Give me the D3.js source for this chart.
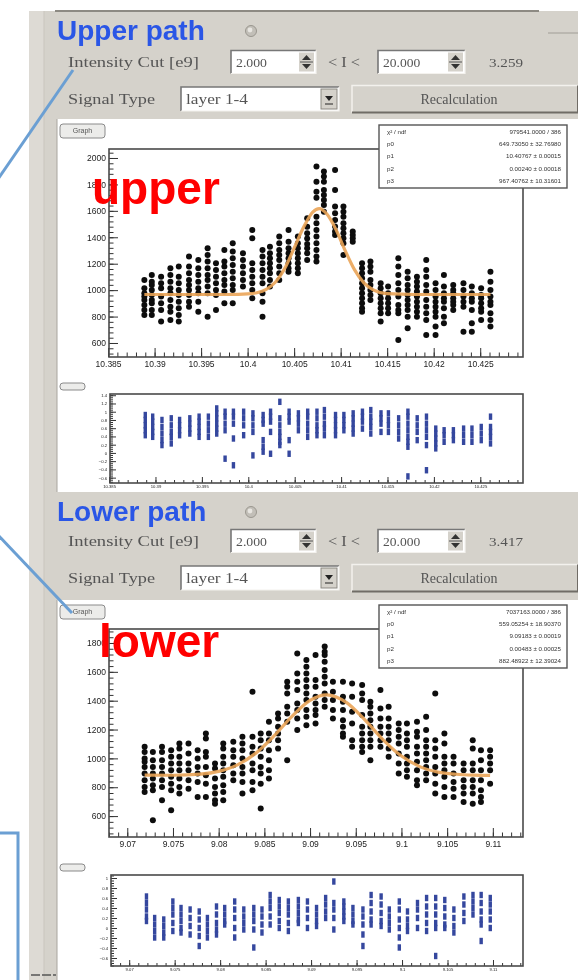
<!DOCTYPE html>
<html>
<head>
<meta charset="utf-8">
<title>upper / lower path fits</title>
<script src="https://cdn.jsdelivr.net/npm/d3@7/dist/d3.min.js"></script>
<style>
  body { margin: 0; background: #fff; }
  svg { display: block; }
</style>
</head>
<body>
<div id="contents"></div>
<script>
// ---------- data ----------
const upperX = [10.3889, 10.3897, 10.3907, 10.3917, 10.3926, 10.3937, 10.3947, 10.3957, 10.3966, 10.3975,
    10.3984, 10.3995, 10.4005, 10.4016, 10.4024, 10.4034, 10.4044, 10.4054, 10.4064, 10.4074,
    10.4082, 10.4094, 10.4103, 10.4113, 10.4123, 10.4132, 10.4143, 10.4151, 10.4162, 10.4172,
    10.4182, 10.4192, 10.4202, 10.4211, 10.4221, 10.4232, 10.4241, 10.4251, 10.4261];

const upperY = [
    [1077, 1014, 976, 951, 926, 888, 850, 812],
    [1115, 1064, 1039, 1001, 963, 926, 900, 850, 812],
    [1102, 1052, 1014, 951, 900, 850, 762],
    [1165, 1115, 1064, 1014, 976, 926, 875, 837, 774],
    [1178, 1102, 1052, 1001, 963, 913, 862, 812, 762],
    [1254, 1178, 1127, 1077, 1039, 1001, 963, 913, 875],
    [1228, 1165, 1115, 1064, 1014, 976, 913, 837],
    [1317, 1266, 1216, 1165, 1115, 1077, 1027, 976, 799],
    [1203, 1153, 1102, 1052, 1001, 963, 850],
    [1304, 1216, 1178, 1127, 1077, 1039, 989, 900],
    [1355, 1292, 1241, 1190, 1140, 1090, 1039, 1001, 900],
    [1279, 1228, 1178, 1127, 1077, 1027],
    [1455, 1392, 1203, 1153, 1102, 1052, 1001, 938],
    [1304, 1254, 1203, 1153, 1102, 1052, 976, 913, 799],
    [1329, 1279, 1241, 1203, 1165, 1127, 1077, 1027],
    [1405, 1355, 1304, 1266, 1228, 1178, 1127, 1077],
    [1455, 1367, 1317, 1279, 1241, 1203, 1165, 1140],
    [1405, 1355, 1317, 1279, 1241, 1203, 1165, 1127],
    [1544, 1480, 1430, 1390, 1350, 1317, 1280, 1228],
    [1935, 1821, 1745, 1700, 1556, 1506, 1455, 1405, 1355, 1304, 1254, 1216],
    [1897, 1860, 1821, 1758, 1720, 1682, 1645, 1594],
    [1910, 1758, 1632, 1582, 1531, 1481, 1443, 1418],
    [1632, 1594, 1556, 1506, 1468, 1430, 1392, 1355, 1266],
    [1443, 1418, 1392, 1367],
    [1203, 1165, 1127, 1090, 1052, 1014, 976, 938, 900, 862, 837],
    [1216, 1178, 1140, 1077, 1039, 1001, 963, 926],
    [1052, 1014, 976, 938, 900, 862, 825, 762],
    [1027, 976, 938, 900, 862, 825],
    [1241, 1178, 1115, 1052, 1001, 951, 888, 850, 825, 623],
    [1140, 1090, 1039, 1001, 963, 926, 888, 850, 799, 711],
    [1102, 1064, 1027, 989, 951, 913, 875, 837, 799],
    [1228, 1153, 1102, 1039, 989, 926, 875, 825, 774, 661],
    [1052, 1001, 951, 913, 875, 837, 799, 724, 661],
    [1115, 1027, 976, 938, 913, 863, 799, 749],
    [1039, 1001, 976, 938, 913, 888, 850],
    [1052, 1001, 951, 913, 875, 686],
    [1027, 976, 938, 913, 850, 749, 686],
    [1014, 963, 938, 900, 863, 837, 774],
    [1140, 1064, 1001, 951, 913, 888, 825, 774, 724]
];

const upperFitX = [10.3889, 10.394, 10.398, 10.400, 10.401, 10.402, 10.403, 10.404, 10.405, 10.406, 10.407,
    10.4077, 10.4085, 10.4095, 10.4105, 10.4115, 10.4125, 10.4135, 10.415, 10.418, 10.4261];
const upperFitY = [967, 967, 967, 971, 980, 1006, 1062, 1165, 1318, 1474, 1591,
    1617, 1578, 1458, 1297, 1153, 1055, 1002, 973, 967, 967];

const upperResid = [
    [0.92, 0.80, 0.67, 0.55, 0.43], [0.88, 0.76, 0.63, 0.51, 0.39], [0.80, 0.63, 0.47, 0.31, 0.19],
    [0.84, 0.67, 0.51, 0.39, 0.23], [0.80, 0.67, 0.55, 0.43], [0.84, 0.71, 0.59, 0.47],
    [0.88, 0.76, 0.63, 0.51, 0.39], [0.88, 0.71, 0.55, 0.39], [1.08, 0.96, 0.84, 0.71, 0.59, 0.47],
    [1.00, 0.88, 0.71, 0.55, -0.14], [1.00, 0.88, 0.71, 0.35, -0.30], [1.00, 0.84, 0.67, 0.43],
    [0.96, 0.84, 0.67, 0.51, -0.06], [0.92, 0.80, 0.71, 0.31, 0.15, 0.03], [1.00, 0.88, 0.76, 0.51, -0.02],
    [1.24, 0.84, 0.67, 0.51, 0.39, 0.27, 0.19], [1.00, 0.88, 0.76, 0.31, -0.02], [0.96, 0.84, 0.71, 0.55],
    [1.00, 0.88, 0.71, 0.55, 0.39], [1.00, 0.84, 0.67, 0.55, 0.43], [1.04, 0.88, 0.71, 0.59, 0.43],
    [0.92, 0.80, 0.67, 0.55, 0.43], [0.92, 0.80, 0.67, 0.55], [0.96, 0.84, 0.71, 0.59, 0.47],
    [1.00, 0.88, 0.76, 0.59], [1.04, 0.88, 0.76, 0.63, 0.47], [0.96, 0.84, 0.71, 0.51],
    [0.96, 0.80, 0.67, 0.51], [0.84, 0.67, 0.51, 0.35], [1.00, 0.88, 0.71, 0.55, 0.39, 0.27, 0.15, -0.57],
    [0.84, 0.67, 0.51, 0.31], [0.88, 0.71, 0.55, 0.39, 0.19, -0.42], [0.59, 0.47, 0.35, 0.23, 0.11],
    [0.55, 0.43, 0.27], [0.55, 0.43, 0.31], [0.59, 0.43, 0.27],
    [0.59, 0.43, 0.27], [0.63, 0.47, 0.31], [0.88, 0.63, 0.51, 0.39, 0.23]
];

const lowerX = [9.0719, 9.0728, 9.0738, 9.0748, 9.0757, 9.0767, 9.0777, 9.0786, 9.0796, 9.0805,
    9.0816, 9.0826, 9.0837, 9.0846, 9.0855, 9.0865, 9.0875, 9.0886, 9.0896, 9.0906,
    9.0916, 9.0925, 9.0936, 9.0946, 9.0957, 9.0966, 9.0977, 9.0986, 9.0997, 9.1006,
    9.1017, 9.1027, 9.1037, 9.1047, 9.1057, 9.1068, 9.1078, 9.1087, 9.1097];

const lowerY = [
    [1080, 1045, 1000, 976, 941, 895, 849, 802, 767],
    [1045, 987, 941, 895, 860, 814, 779, 571],
    [1080, 1045, 987, 941, 895, 849, 802, 710],
    [1057, 1011, 964, 918, 872, 825, 779, 640],
    [1103, 1068, 1011, 964, 918, 860, 802, 756],
    [1103, 1034, 964, 918, 849, 790],
    [1057, 999, 941, 895, 837, 733],
    [1173, 1138, 1045, 1011, 941, 883, 825, 733],
    [964, 930, 860, 802, 756, 710, 686],
    [1103, 1068, 1011, 964, 918, 872, 814, 767, 710],
    [1115, 1057, 1011, 953, 895, 849],
    [1150, 1103, 1057, 999, 941, 895, 837, 756],
    [1462, 1150, 1080, 1034, 964, 918, 837, 779],
    [1173, 1126, 1068, 1011, 941, 895, 825, 652],
    [1254, 1173, 1126, 1057, 987, 918, 860],
    [1312, 1277, 1219, 1173, 1126, 1068],
    [1531, 1497, 1450, 1358, 1312, 1254, 987],
    [1728, 1589, 1531, 1474, 1381, 1335, 1277, 1196],
    [1682, 1636, 1589, 1543, 1497, 1450, 1404, 1335, 1288, 1230],
    [1717, 1543, 1497, 1427, 1381, 1335, 1300, 1242],
    [1775, 1740, 1717, 1670, 1613, 1566, 1520, 1450, 1404, 1358],
    [1531, 1462, 1404, 1335, 1277],
    [1531, 1427, 1392, 1335, 1265, 1219, 1173, 1150],
    [1520, 1427, 1323, 1242, 1126, 1080],
    [1508, 1450, 1404, 1300, 1219, 1173, 1126, 1080, 1045],
    [1392, 1358, 1312, 1265, 1219, 1173, 1126, 1080, 987],
    [1474, 1346, 1277, 1219, 1173, 1126, 1080],
    [1358, 1277, 1219, 1173, 1126, 1068, 1011],
    [1242, 1196, 1150, 1103, 1034, 964, 895],
    [1242, 1173, 1126, 1080, 1011, 964, 918, 872],
    [1254, 1184, 1150, 1080, 1034, 976, 918, 849, 814],
    [1288, 1196, 1126, 1080, 1034, 987, 941, 895, 849],
    [1450, 1126, 1068, 1011, 941, 895, 825, 756],
    [1173, 1103, 1011, 964, 918, 872, 802, 733],
    [1011, 964, 895, 837, 790, 733],
    [964, 918, 849, 802, 756, 698],
    [1126, 1068, 964, 918, 849, 802, 756, 686],
    [1057, 987, 918, 849, 779, 733, 698],
    [1057, 1011, 964, 918, 825]
];

const lowerFitX = [9.0719, 9.075, 9.078, 9.080, 9.082, 9.084, 9.086, 9.088, 9.090, 9.0918,
    9.094, 9.096, 9.098, 9.100, 9.102, 9.104, 9.106, 9.108, 9.1097];
const lowerFitY = [884, 883, 891, 910, 953, 1033, 1152, 1290, 1402, 1441,
    1387, 1267, 1129, 1016, 943, 905, 890, 884, 882];

const lowerResid = [
    [0.63, 0.50, 0.37, 0.23, 0.14], [0.20, 0.07, -0.06, -0.19], [0.17, 0.04, -0.09, -0.19],
    [0.53, 0.40, 0.27, 0.10, -0.06], [0.40, 0.27, 0.14, 0.00, -0.09], [0.37, 0.20, 0.04, -0.13],
    [0.33, 0.17, 0.00, -0.16, -0.36], [0.20, 0.07, -0.06, -0.19], [0.43, 0.27, 0.10, -0.03, -0.13],
    [0.40, 0.27, 0.14, 0.07], [0.53, 0.37, 0.20, 0.00, -0.19], [0.37, 0.23, 0.10, -0.03],
    [0.40, 0.27, 0.14, -0.03, -0.39], [0.37, 0.23, 0.07, -0.09], [0.66, 0.53, 0.40, 0.23, 0.07],
    [0.56, 0.43, 0.30, 0.14, 0.00], [0.53, 0.40, 0.27, 0.10, -0.06], [0.56, 0.43, 0.30, 0.17, 0.10],
    [0.53, 0.37, 0.20, 0.00], [0.40, 0.27, 0.14, 0.04], [0.60, 0.47, 0.33, 0.20],
    [0.93, 0.50, 0.37, 0.20, -0.03], [0.53, 0.43, 0.33, 0.23, 0.14], [0.40, 0.27, 0.14, 0.07],
    [0.37, 0.23, 0.07, -0.13, -0.36], [0.66, 0.50, 0.33, 0.17, 0.07], [0.63, 0.47, 0.30, 0.14, 0.04],
    [0.37, 0.23, 0.10, -0.03], [0.53, 0.37, 0.17, 0.00, -0.19, -0.39], [0.33, 0.17, 0.04, -0.06],
    [0.50, 0.37, 0.20, 0.00], [0.60, 0.43, 0.27, 0.10, -0.06], [0.60, 0.43, 0.27, 0.10, 0.00, -0.56],
    [0.56, 0.40, 0.23, 0.07, 0.00], [0.37, 0.20, 0.04, -0.09], [0.63, 0.47, 0.30, 0.14],
    [0.66, 0.53, 0.40, 0.27], [0.66, 0.50, 0.33, 0.17, 0.07, -0.26], [0.60, 0.47, 0.33, 0.17, 0.00]
];

// ---------- ticks and texts ----------
const upperXTicks = [10.385, 10.39, 10.395, 10.4, 10.405, 10.41, 10.415, 10.42, 10.425];
const upperXLabels = ["10.385", "10.39", "10.395", "10.4", "10.405", "10.41", "10.415", "10.42", "10.425"];
const upperYTicks = [600, 800, 1000, 1200, 1400, 1600, 1800, 2000];
const lowerXTicks = [9.07, 9.075, 9.08, 9.085, 9.09, 9.095, 9.1, 9.105, 9.11];
const lowerXLabels = ["9.07", "9.075", "9.08", "9.085", "9.09", "9.095", "9.1", "9.105", "9.11"];
const lowerYTicks = [600, 800, 1000, 1200, 1400, 1600, 1800];
const upperRTicks = [1.4, 1.2, 1, 0.8, 0.6, 0.4, 0.2, 0, -0.2, -0.4, -0.6];
const lowerRTicks = [1, 0.8, 0.6, 0.4, 0.2, 0, -0.2, -0.4, -0.6];

const statNames = ["\u03c7\u00b2 / ndf", "p0", "p1", "p2", "p3"];
const upperStats = ["979541.0000 / 386", "649.73050 \u00b1 32.76980", "10.40767 \u00b1 0.00015",
    "0.00240 \u00b1 0.00018", "967.40762 \u00b1 10.31601"];
const lowerStats = ["7037163.0000 / 386", "559.05254 \u00b1 18.90370", "9.09183 \u00b1 0.00019",
    "0.00483 \u00b1 0.00025", "882.48922 \u00b1 12.39024"];

const upperCut = ["2.000", "20.000", "3.259"];
const lowerCut = ["2.000", "20.000", "3.417"];
const guiLabels = ["Intensity Cut [e9]", "< I <", "Signal Type", "layer 1-4", "Recalculation", "Graph"];

// ---------- layout ----------
const W = 578, H = 980;
const GRAY = "#d5d2cb";

const panels = [
    {title: "Upper path", tag: "upper", cut: upperCut, xs: upperX, ys: upperY,
     fitX: upperFitX, fitY: upperFitY, resid: upperResid, stats: upperStats,
     xDomain: [10.3851, 10.4296], yDomain: [494, 2068], rDomain: [-0.73, 1.43],
     xTicks: upperXTicks, xLabels: upperXLabels, yTicks: upperYTicks, rTicks: upperRTicks,
     lay: {head: 31, cut: 62, sig: 99, canvas: [119, 492], tagX: 92, tagY: 204,
           plot: {l: 109, r: 523, t: 149, b: 357}, res: {l: 110, r: 523, t: 394, b: 483},
           box: {x: 379, y: 125, w: 188, h: 63}}},
    {title: "Lower path", tag: "lower", cut: lowerCut, xs: lowerX, ys: lowerY,
     fitX: lowerFitX, fitY: lowerFitY, resid: lowerResid, stats: lowerStats,
     xDomain: [9.068, 9.1133], yDomain: [455, 1897], rDomain: [-0.76, 1.06],
     xTicks: lowerXTicks, xLabels: lowerXLabels, yTicks: lowerYTicks, rTicks: lowerRTicks,
     lay: {head: 512, cut: 541, sig: 578, canvas: [600, 980], tagX: 99, tagY: 657,
           plot: {l: 109, r: 523, t: 629, b: 837}, res: {l: 111, r: 523, t: 875, b: 966},
           box: {x: 379, y: 605, w: 188, h: 63}}}
];

const svg = d3.select("#contents").append("svg")
        .attr("width", W)
        .attr("height", H);

svg.append("defs").append("filter")
        .attr("id", "soft")
    .append("feGaussianBlur")
        .attr("stdDeviation", 0.6);

const gui = svg.append("g").attr("filter", "url(#soft)");

drawChrome(gui);
panels.forEach((p, i) => drawPanel(gui, p, i));
drawNotes(svg);

function drawChrome(g){
    g.append("rect").attr("x", 29).attr("y", 11).attr("width", W - 29).attr("height", H - 11).attr("fill", GRAY);
    g.append("rect").attr("x", 29).attr("y", 11).attr("width", 15).attr("height", H - 11).attr("fill", "#dddad4");
    g.append("line").attr("x1", 44).attr("x2", 44).attr("y1", 11).attr("y2", H).attr("stroke", "#c9c5be");
    g.append("line").attr("x1", 55).attr("x2", 539).attr("y1", 11).attr("y2", 11)
        .attr("stroke", "#8d8a83").attr("stroke-width", 2);
    g.append("line").attr("x1", 548).attr("x2", W).attr("y1", 33).attr("y2", 33).attr("stroke", "#a09d96");
    g.append("line").attr("x1", 31).attr("x2", 56).attr("y1", 975).attr("y2", 975)
        .attr("stroke", "#555").attr("stroke-width", 1.5).attr("stroke-dasharray", "9,2");
}

function label(g, x, yc, text, len, size){
    g.append("text")
        .attr("x", x).attr("y", yc + 5)
        .attr("font-family", "Liberation Serif, DejaVu Serif, serif")
        .attr("font-size", size || 15)
        .attr("fill", "#555")
        .attr("textLength", len).attr("lengthAdjust", "spacingAndGlyphs")
        .text(text);
}

function sunken(g, x, y, w, h){
    g.append("rect").attr("x", x).attr("y", y).attr("width", w).attr("height", h).attr("fill", "#fff");
    g.append("path").attr("d", `M${x},${y + h}V${y}H${x + w}`).attr("fill", "none")
        .attr("stroke", "#777").attr("stroke-width", 1.6);
    g.append("path").attr("d", `M${x + w},${y}V${y + h}H${x}`).attr("fill", "none")
        .attr("stroke", "#f4f2ee").attr("stroke-width", 1.2);
}

function spinbox(g, x, yc, w, text){
    const h = 23, y = yc - h / 2;
    sunken(g, x, y, w, h);
    label(g, x + 5, yc, text, text.length * 6.2, 13);
    const ax = x + w - 17;
    g.append("rect").attr("x", ax).attr("y", y + 2).attr("width", 15).attr("height", h - 4).attr("fill", GRAY);
    g.append("path").attr("d", `M${ax + 3},${yc - 2}L${ax + 12},${yc - 2}L${ax + 7.5},${yc - 7}Z`).attr("fill", "#333");
    g.append("path").attr("d", `M${ax + 3},${yc + 2}L${ax + 12},${yc + 2}L${ax + 7.5},${yc + 7}Z`).attr("fill", "#333");
    g.append("line").attr("x1", ax + 1).attr("x2", ax + 14).attr("y1", yc).attr("y2", yc).attr("stroke", "#555");
}

function combo(g, x, yc, w, text){
    const h = 24, y = yc - h / 2;
    sunken(g, x, y, w, h);
    label(g, x + 5, yc, text, 62, 14);
    const ax = x + w - 18;
    g.append("rect").attr("x", ax).attr("y", y + 2).attr("width", 16).attr("height", h - 4).attr("fill", GRAY)
        .attr("stroke", "#8c8982");
    g.append("path").attr("d", `M${ax + 4},${yc - 3}L${ax + 12},${yc - 3}L${ax + 8},${yc + 2}Z`).attr("fill", "#222");
    g.append("line").attr("x1", ax + 4).attr("x2", ax + 12).attr("y1", yc + 5).attr("y2", yc + 5).attr("stroke", "#222");
}

function button(g, x, yc, w, text){
    const h = 27, y = yc - h / 2;
    g.append("rect").attr("x", x).attr("y", y).attr("width", w).attr("height", h).attr("fill", GRAY);
    g.append("path").attr("d", `M${x},${y + h}V${y}H${x + w}`).attr("fill", "none").attr("stroke", "#f3f1ed").attr("stroke-width", 1.5);
    g.append("path").attr("d", `M${x + w},${y}V${y + h}H${x}`).attr("fill", "none").attr("stroke", "#6f6c66").attr("stroke-width", 2);
    g.append("text").attr("x", x + w / 2 - 6).attr("y", yc + 5)
        .attr("text-anchor", "middle")
        .attr("font-family", "Liberation Serif, DejaVu Serif, serif")
        .attr("font-size", 14).attr("fill", "#555")
        .text(text);
}

function pill(g, x, y, w, h, text, size){
    g.append("rect").attr("x", x).attr("y", y).attr("width", w).attr("height", h).attr("rx", 3)
        .attr("fill", "#ececea").attr("stroke", "#8a8a8a");
    g.append("text").attr("x", x + w / 2).attr("y", y + h / 2 + size * 0.35)
        .attr("text-anchor", "middle")
        .attr("font-family", "Liberation Sans, Arial, sans-serif")
        .attr("font-size", size).attr("fill", "#555")
        .text(text);
}

function drawAxes(g, x, y, box, xTicks, xLabels, yTicks, yFmt, minorX, minorY, fs, major, minor){
    const sty = sel => {
        sel.select(".domain").remove();
        sel.selectAll("line").attr("stroke", "#333");
        sel.selectAll("text")
            .attr("font-family", "Liberation Sans, Arial, sans-serif")
            .attr("font-size", fs).attr("fill", "#1c1c1c");
    };
    g.append("g").attr("transform", `translate(0,${box.b})`)
        .call(d3.axisBottom(x).tickValues(minorX).tickSize(-minor).tickFormat(""))
        .call(sty);
    g.append("g").attr("transform", `translate(0,${box.b})`)
        .call(d3.axisBottom(x).tickValues(xTicks).tickSizeInner(-major).tickSizeOuter(0)
            .tickPadding(fs * 0.5).tickFormat((d, i) => xLabels[i]))
        .call(sty);
    g.append("g").attr("transform", `translate(${box.l},0)`)
        .call(d3.axisLeft(y).tickValues(minorY).tickSize(-minor).tickFormat(""))
        .call(sty);
    g.append("g").attr("transform", `translate(${box.l},0)`)
        .call(d3.axisLeft(y).tickValues(yTicks).tickSizeInner(-major).tickSizeOuter(0)
            .tickPadding(3).tickFormat(yFmt))
        .call(sty);
    g.append("rect")
        .attr("x", box.l).attr("y", box.t)
        .attr("width", box.r - box.l).attr("height", box.b - box.t)
        .attr("fill", "none").attr("stroke", "#4a4a4a").attr("stroke-width", 1.6);
}

function drawScatter(g, x, y, xs, ys, r, color, clipId){
    const pts = [];
    xs.forEach((xv, i) => ys[i].forEach(v => pts.push([xv, v])));
    g.append("g").attr("clip-path", `url(#${clipId})`)
        .selectAll("circle").data(pts).join("circle")
            .attr("cx", d => x(d[0]))
            .attr("cy", d => y(d[1]))
            .attr("r", r)
            .attr("fill", color);
}

// residual markers look like short vertical dashes
function drawDashes(g, x, y, xs, ys, color, clipId){
    const pts = [];
    xs.forEach((xv, i) => ys[i].forEach(v => pts.push([xv, v])));
    g.append("g").attr("clip-path", `url(#${clipId})`)
        .selectAll("rect").data(pts).join("rect")
            .attr("x", d => x(d[0]) - 1.7)
            .attr("y", d => y(d[1]) - 3.2)
            .attr("width", 3.4)
            .attr("height", 6.4)
            .attr("fill", color);
}

function drawPanel(root, p, idx){
    const L = p.lay, g = root.append("g");

    // header and controls
    g.append("text").attr("x", 57).attr("y", L.head + 9)
        .attr("font-family", "Liberation Sans, Arial, sans-serif")
        .attr("font-weight", "bold").attr("font-size", 28).attr("fill", "#2c56e6")
        .text(p.title);
    g.append("circle").attr("cx", 251).attr("cy", L.head).attr("r", 5.5).attr("fill", "#c2bfb8").attr("stroke", "#9a978f");
    g.append("circle").attr("cx", 250).attr("cy", L.head - 1).attr("r", 2.4).attr("fill", "#e8e6e1");

    label(g, 68, L.cut, guiLabels[0], 131);
    spinbox(g, 231, L.cut, 85, p.cut[0]);
    label(g, 328, L.cut, guiLabels[1], 32, 14);
    spinbox(g, 378, L.cut, 87, p.cut[1]);
    label(g, 489, L.cut, p.cut[2], 34, 13);
    label(g, 68, L.sig, guiLabels[2], 87);
    combo(g, 181, L.sig, 158, guiLabels[3]);
    button(g, 352, L.sig, 226, guiLabels[4]);

    // canvas
    g.append("rect").attr("x", 57).attr("y", L.canvas[0]).attr("width", W - 57)
        .attr("height", L.canvas[1] - L.canvas[0]).attr("fill", "#fff");
    g.append("line").attr("x1", 57).attr("x2", 57).attr("y1", L.canvas[0]).attr("y2", L.canvas[1]).attr("stroke", "#a8a59e");
    pill(g, 60, L.canvas[0] + 5, 45, 14, guiLabels[5], 7);

    // main fit plot
    const P = L.plot;
    const x = d3.scaleLinear().domain(p.xDomain).range([P.l, P.r]);
    const y = d3.scaleLinear().domain(p.yDomain).range([P.b, P.t]);
    const clipId = "clip" + idx;
    svg.select("defs").append("clipPath").attr("id", clipId)
        .append("rect").attr("x", P.l).attr("y", P.t).attr("width", P.r - P.l).attr("height", P.b - P.t);

    const minorX = d3.range(Math.ceil(p.xDomain[0] / 0.001) * 0.001, p.xDomain[1], 0.001);
    const minorY = d3.range(Math.ceil(p.yDomain[0] / 40) * 40, p.yDomain[1], 40);
    drawAxes(g, x, y, P, p.xTicks, p.xLabels, p.yTicks, d3.format("d"), minorX, minorY, 8.5, 9, 4.5);

    drawScatter(g, x, y, p.xs, p.ys, 3.0, "#0d0d0d", clipId);

    const fit = d3.line().x((d, i) => x(p.fitX[i])).y(d => y(d)).curve(d3.curveMonotoneX);
    g.append("path").datum(p.fitY).attr("d", fit)
        .attr("fill", "none").attr("stroke", "#eaa457").attr("stroke-width", 3.2).attr("stroke-opacity", 0.9);

    // stats box
    const B = L.box;
    g.append("rect").attr("x", B.x).attr("y", B.y).attr("width", B.w).attr("height", B.h)
        .attr("fill", "#fff").attr("stroke", "#555").attr("stroke-width", 1.4);
    statNames.forEach((n, i) => {
        const ty = B.y + 9 + i * 12.2;
        g.append("text").attr("x", B.x + 8).attr("y", ty)
            .attr("font-family", "Liberation Sans, Arial, sans-serif").attr("font-size", 6.2).attr("fill", "#333")
            .text(n);
        g.append("text").attr("x", B.x + B.w - 6).attr("y", ty).attr("text-anchor", "end")
            .attr("font-family", "Liberation Sans, Arial, sans-serif").attr("font-size", 6.2).attr("fill", "#333")
            .text(p.stats[i]);
    });

    // residual plot
    const R = L.res;
    pill(g, 60, R.t - 11, 25, 7, "", 4);
    const rx = d3.scaleLinear().domain(p.xDomain).range([R.l, R.r]);
    const ry = d3.scaleLinear().domain(p.rDomain).range([R.b, R.t]);
    const rClip = "rclip" + idx;
    svg.select("defs").append("clipPath").attr("id", rClip)
        .append("rect").attr("x", R.l).attr("y", R.t).attr("width", R.r - R.l).attr("height", R.b - R.t);
    const minorR = d3.range(Math.ceil(p.rDomain[0] / 0.05) * 0.05, p.rDomain[1], 0.05);
    drawAxes(g, rx, ry, R, p.xTicks, p.xLabels, p.rTicks, d3.format("~g"), minorX, minorR, 4.2, 6, 3);
    drawDashes(g, rx, ry, p.xs, p.resid, "#34479e", rClip);
}

function drawNotes(s){
    const blue = "#6b9fd3";
    s.append("line").attr("x1", 73).attr("y1", 70).attr("x2", -2).attr("y2", 179)
        .attr("stroke", blue).attr("stroke-width", 3);
    s.append("line").attr("x1", -2).attr("y1", 535).attr("x2", 72).attr("y2", 613)
        .attr("stroke", blue).attr("stroke-width", 3);
    s.append("path").attr("d", "M0,833H18V980").attr("fill", "none")
        .attr("stroke", blue).attr("stroke-width", 3);

    panels.forEach(p => {
        s.append("text").attr("x", p.lay.tagX).attr("y", p.lay.tagY)
            .attr("font-family", "Liberation Sans, Arial, sans-serif")
            .attr("font-weight", "bold").attr("font-size", 46).attr("fill", "#ff0000")
            .text(p.tag);
    });
}
</script>
</body>
</html>
